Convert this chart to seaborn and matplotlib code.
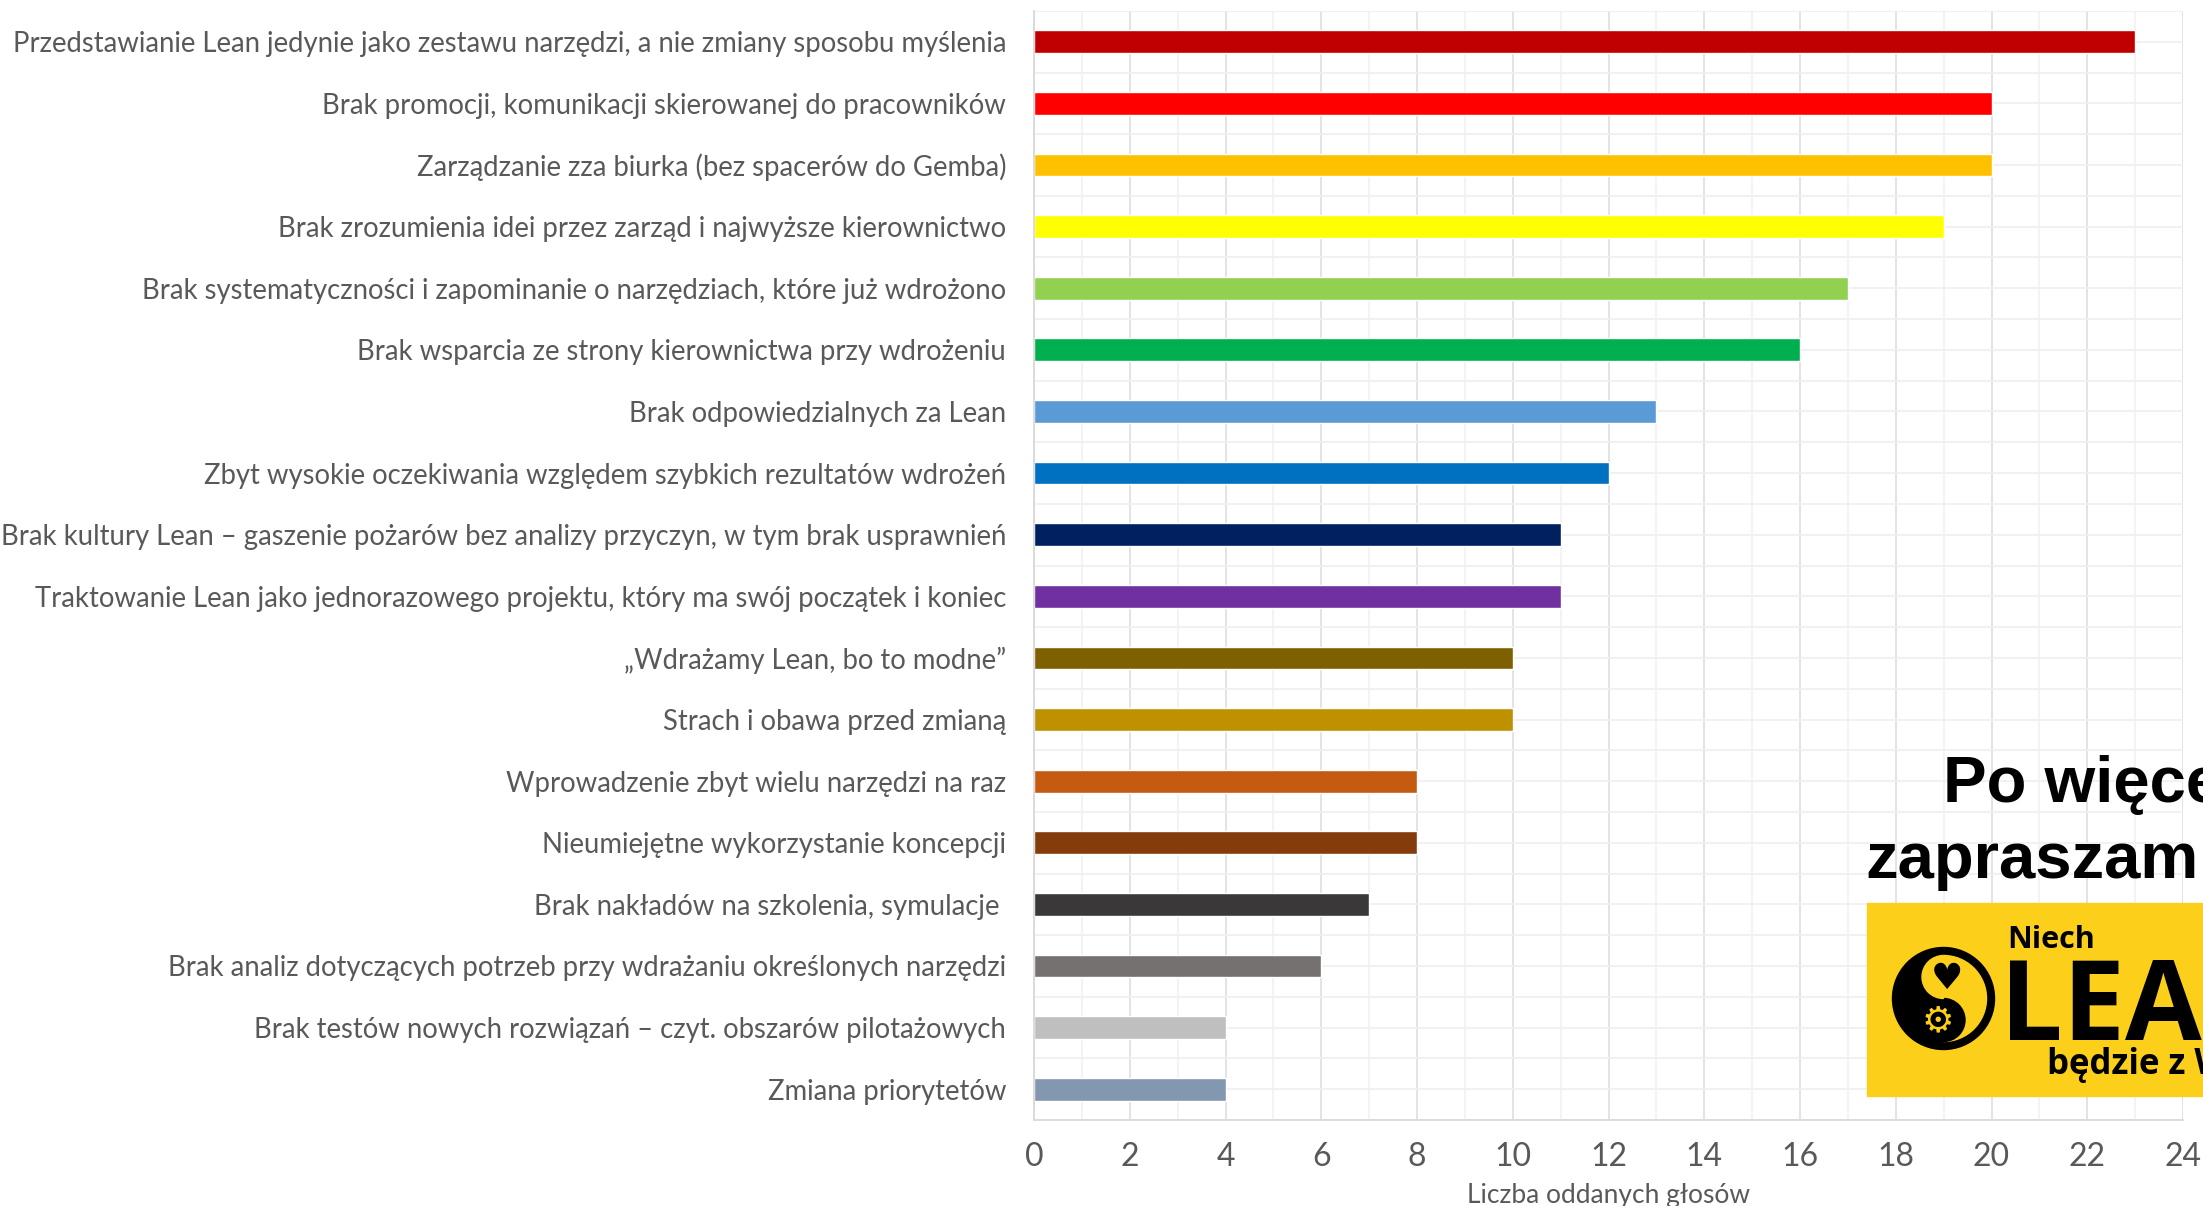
import numpy as np
import pandas as pd
import seaborn as sns
from matplotlib import pyplot as plt
from matplotlib.patches import Rectangle, Circle, Wedge

sns.set_style('white')
plt.rcParams['font.family'] = ['Lato', 'DejaVu Sans']

# Causes of failed Lean implementations and number of votes
causes = [
    'Przedstawianie Lean jedynie jako zestawu narzędzi, a nie zmiany sposobu myślenia',
    'Brak promocji, komunikacji skierowanej do pracowników',
    'Zarządzanie zza biurka (bez spacerów do Gemba)',
    'Brak zrozumienia idei przez zarząd i najwyższe kierownictwo',
    'Brak systematyczności i zapominanie o narzędziach, które już wdrożono',
    'Brak wsparcia ze strony kierownictwa przy wdrożeniu',
    'Brak odpowiedzialnych za Lean',
    'Zbyt wysokie oczekiwania względem szybkich rezultatów wdrożeń',
    'Brak kultury Lean – gaszenie pożarów bez analizy przyczyn, w tym brak usprawnień',
    'Traktowanie Lean jako jednorazowego projektu, który ma swój początek i koniec',
    '„Wdrażamy Lean, bo to modne”',
    'Strach i obawa przed zmianą',
    'Wprowadzenie zbyt wielu narzędzi na raz',
    'Nieumiejętne wykorzystanie koncepcji',
    'Brak nakładów na szkolenia, symulacje ',
    'Brak analiz dotyczących potrzeb przy wdrażaniu określonych narzędzi',
    'Brak testów nowych rozwiązań – czyt. obszarów pilotażowych',
    'Zmiana priorytetów',
]
votes = [23, 20, 20, 19, 17, 16, 13, 12, 11, 11, 10, 10, 8, 8, 7, 6, 4, 4]
bar_colors = [
    '#C00000', '#FF0000', '#FFC000', '#FFFF00', '#92D050', '#00B050',
    '#5B9BD5', '#0070C0', '#002060', '#7030A0', '#7F6000', '#BF9000',
    '#C55A11', '#843C0C', '#3A3838', '#767171', '#BFBFBF', '#8497B0',
]
x_ticks = list(range(0, 25, 2))

df = pd.DataFrame({'cause': causes, 'votes': votes})

W, H = 2203, 1206
fig = plt.figure(figsize=(W / 100, H / 100), dpi=100)
ax = fig.add_axes([1034 / W, 1 - 1120 / H, (2183 - 1034) / W, (1120 - 11) / H])

sns.barplot(data=df, x='votes', y='cause', hue='cause', palette=bar_colors,
            legend=False, width=0.37, saturation=1, ax=ax)

ax.set_xlim(0, 24)
ax.set_ylim(len(causes) - 0.5, -0.5)
ax.set_xticks(x_ticks)
ax.set_xticks(range(0, 25), minor=True)
ax.set_yticks(np.arange(-0.5, len(causes), 1), minor=True)
ax.set_axisbelow(True)
ax.grid(which='major', axis='x', color='#E0E0E0', lw=1.3)
ax.grid(which='minor', axis='x', color='#F2F2F2', lw=1.3)
ax.grid(which='both', axis='y', color='#F0F0F0', lw=1.3)

ax.tick_params(axis='y', which='major', length=0, pad=20, labelsize=19.8, labelcolor='#595959')
ax.tick_params(axis='y', which='minor', length=6, color='#D9D9D9', width=1.3)
ax.tick_params(axis='x', which='both', length=0, pad=16, labelsize=23, labelcolor='#595959')
ax.set_ylabel('')
ax.set_xlabel('Liczba oddanych głosów', fontsize=19, color='#595959', labelpad=8)
for s in ['top', 'right']:
    ax.spines[s].set_visible(False)
for s in ['left', 'bottom']:
    ax.spines[s].set_color('#D9D9D9')
    ax.spines[s].set_linewidth(1.3)

# overlay in pixel coordinates for the slide text and logo
ov = fig.add_axes([0, 0, 1, 1], zorder=5)
ov.set_xlim(0, W)
ov.set_ylim(H, 0)
ov.axis('off')
ov.patch.set_alpha(0)

ov.text(1943, 802, 'Po więcej', fontsize=47, fontweight='bold',
        family='Liberation Sans', va='baseline', ha='left', color='black')
ov.text(1865, 878, 'zapraszam', fontsize=47, fontweight='bold',
        family='Liberation Sans', va='baseline', ha='left', color='black')

yellow = '#FCCF1B'
ov.add_patch(Rectangle((1867, 903), 336, 193, color=yellow, zorder=1))
cx, cy, R = 1943.5, 998.5, 51
r = R - 8
ov.add_patch(Circle((cx, cy), R, color='black', zorder=2))
ov.add_patch(Wedge((cx, cy), r, 270, 90, color=yellow, zorder=3))
ov.add_patch(Circle((cx, cy + r / 2), r / 2, color='black', zorder=4))
ov.add_patch(Wedge((cx, cy - r / 2), r / 2, 90, 270, color=yellow, zorder=4))
ov.text(cx + 3, cy - r / 2 + 2, '♥', fontsize=26, family='DejaVu Sans',
        ha='center', va='center', color='black', zorder=6)
ov.text(cx - 6, cy + r / 2 + 1, '⚙', fontsize=26, family='DejaVu Sans',
        ha='center', va='center', color=yellow, zorder=6)
ov.text(2007, 948, 'Niech', fontsize=22, fontweight='bold', family='Open Sans',
        va='baseline', ha='left', color='black', zorder=6)
ov.text(2000, 1040, 'LEAN', fontsize=80, fontweight='bold', family='Open Sans',
        va='baseline', ha='left', color='black', zorder=6)
ov.text(2047, 1074, 'będzie z Wami', fontsize=25, fontweight='bold', family='Open Sans',
        va='baseline', ha='left', color='black', zorder=6)

fig.savefig('out.png', dpi=100)
